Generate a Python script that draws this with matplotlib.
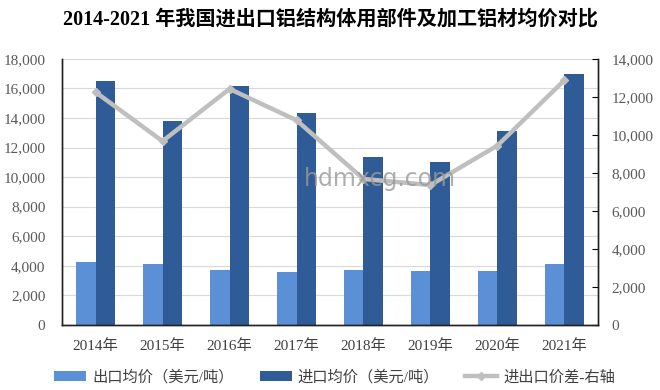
import numpy as np
import matplotlib.pyplot as plt
from matplotlib.ticker import FuncFormatter

# ============ data ============
years = ['2014年', '2015年', '2016年', '2017年', '2018年', '2019年', '2020年', '2021年']
export_price = [4270, 4130, 3720, 3590, 3720, 3650, 3650, 4130]
import_price = [16500, 13800, 16170, 14340, 11350, 11010, 13100, 16960]
price_gap = [12250, 9670, 12420, 10770, 7680, 7360, 9440, 12880]

serif = ['Liberation Serif', 'Noto Sans CJK SC']
plt.rcParams['font.family'] = serif

fig = plt.figure(figsize=(6.6, 3.9), dpi=100)
ax = fig.add_axes([0.094, 0.167, 0.812, 0.682])
ax2 = ax.twinx()

x = np.arange(len(years))
w = 0.285
ax.bar(x - w / 2, export_price, w, color='#5B8FD6', label='出口均价（美元/吨）', zorder=2)
ax.bar(x + w / 2, import_price, w, color='#2F5C96', label='进口均价（美元/吨）', zorder=2)
ax2.plot(x, price_gap, color='#BFBFBF', lw=3.2, marker='D', ms=4,
         label='进出口价差-右轴', zorder=3)

fmt = FuncFormatter(lambda v, p: f'{int(v):,}')
ax.set_xlim(-0.5, 7.5)
ax.set_ylim(0, 18000)
ax.set_yticks(np.arange(0, 18001, 2000))
ax.yaxis.set_major_formatter(fmt)
ax2.set_ylim(0, 14000)
ax2.set_yticks(np.arange(0, 14001, 2000))
ax2.yaxis.set_major_formatter(fmt)
ax.set_xticks(x)
ax.set_xticklabels(years)

ax.grid(axis='y', color='#D9D9D9', lw=0.8, zorder=0)
ax.set_axisbelow(True)
for a in (ax, ax2):
    a.spines['top'].set_visible(False)
    for s in ('left', 'bottom', 'right'):
        a.spines[s].set_color('#222222')
        a.spines[s].set_linewidth(1.0)
ax.tick_params(axis='y', length=0, labelsize=11, labelcolor='#595959', pad=12)
ax.tick_params(axis='x', length=0, labelsize=11, labelcolor='#404040', pad=10)
ax2.tick_params(axis='y', direction='in', length=4, labelsize=11, labelcolor='#595959', pad=10)

fig.text(0.5, 0.951, '2014-2021 年我国进出口铝结构体用部件及加工铝材均价对比',
         ha='center', va='center', fontsize=14.5, fontweight='bold',
         family=['Liberation Serif', 'Noto Sans CJK SC'])

fig.text(0.575, 0.54, 'hdmxcg.com', ha='center', va='center', fontsize=17,
         color='#9A9A9A', alpha=0.8, family='DejaVu Sans')

h1, l1 = ax.get_legend_handles_labels()
h2, l2 = ax2.get_legend_handles_labels()
fig.legend(h1 + h2, l1 + l2, loc='center', bbox_to_anchor=(0.507, 0.033), ncol=3,
           frameon=False, prop={'family': serif, 'size': 11}, handlelength=2.1,
           handleheight=0.55, handletextpad=0.4, columnspacing=1.7, labelcolor='#404040')

fig.savefig('out.png', dpi=100)
